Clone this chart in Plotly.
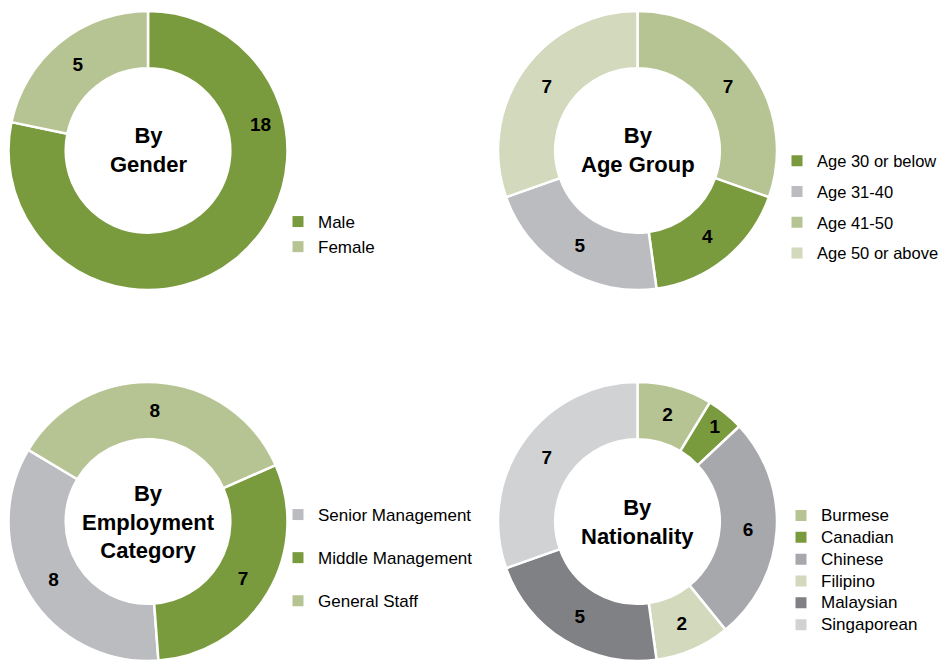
import math
import plotly.graph_objects as go

# ---------------- data ----------------
gender_labels = ["Male", "Female"]
gender_values = [18, 5]

age_labels = ["Age 30 or below", "Age 31-40", "Age 41-50", "Age 50 or above"]
age_values = [4, 5, 7, 7]
# clockwise drawing order of the age slices, starting at 12 o'clock
age_pie_order = ["Age 41-50", "Age 30 or below", "Age 31-40", "Age 50 or above"]

employment_labels = ["Senior Management", "Middle Management", "General Staff"]
employment_values = [8, 7, 8]

nationality_labels = ["Burmese", "Canadian", "Chinese", "Filipino", "Malaysian", "Singaporean"]
nationality_values = [2, 1, 6, 2, 5, 7]

# ---------------- styles ----------------
DARK_GREEN = "#7a9a3e"
LIGHT_GREEN = "#b6c493"
PALE_GREEN = "#d3d9bc"
MID_GRAY = "#bbbcc0"
GRAY = "#a7a8ac"
DARK_GRAY = "#808185"
LIGHT_GRAY = "#d1d2d4"

gender_colors = [DARK_GREEN, LIGHT_GREEN]
age_colors = [DARK_GREEN, MID_GRAY, LIGHT_GREEN, PALE_GREEN]
employment_colors = [MID_GRAY, DARK_GREEN, LIGHT_GREEN]
nationality_colors = [LIGHT_GREEN, DARK_GREEN, GRAY, PALE_GREEN, DARK_GRAY, LIGHT_GRAY]

FONT = "Arial, Liberation Sans, sans-serif"
W, H = 950, 661
OFF = 8  # page body margin of the html page


def px_x(v):
    return (v - OFF) / W


def px_y(v):
    return 1 - (v - OFF) / H


fig = go.Figure()

HOLE = 0.59
LABEL_SIZE = 19


def add_pie(labels, values, colors, dom_x, dom_y, direction="clockwise", rotation=0,
            templates=None):
    fig.add_trace(go.Pie(
        labels=labels, values=values, sort=False, direction=direction, rotation=rotation,
        hole=HOLE, showlegend=False,
        marker=dict(colors=colors, line=dict(color="white", width=2.5)),
        textinfo="value",
        texttemplate=templates if templates is not None else "<b>%{value}</b>",
        textposition="inside",
        insidetextorientation="horizontal",
        textfont=dict(family=FONT, size=LABEL_SIZE, color="black"),
        domain=dict(x=dom_x, y=dom_y),
        hoverinfo="label+value",
    ))


def add_legend(name, labels, colors, text_px=None):
    for i, (lab, col) in enumerate(zip(labels, colors)):
        shown = lab if text_px is None else f"<span style='font-size:{text_px}px'>{lab}</span>"
        fig.add_trace(go.Scatter(
            x=[None], y=[None], mode="markers", name=shown,
            marker=dict(symbol="square", size=11, color=col),
            legend=name, legendgroup=f"{name}_{i}", showlegend=True, hoverinfo="skip",
        ))


LEFT_X = [px_x(8.5), px_x(287.5)]
RIGHT_X = [px_x(498), px_x(777)]
TOP_Y = [px_y(290), px_y(11)]
BOT_Y = [px_y(661), px_y(382)]

# chart 1 – the big slice's label is placed as an annotation (upper right, as in the original)
add_pie(gender_labels, gender_values, gender_colors, LEFT_X, TOP_Y,
        templates=[""] + ["<b>%{value}</b>"] * (len(gender_values) - 1))
# chart 2 (slices in drawing order)
age_idx = [age_labels.index(l) for l in age_pie_order]
add_pie([age_labels[i] for i in age_idx], [age_values[i] for i in age_idx],
        [age_colors[i] for i in age_idx], RIGHT_X, TOP_Y)
# chart 3
add_pie(employment_labels, employment_values, employment_colors, LEFT_X, BOT_Y,
        direction="counterclockwise", rotation=175.7)
# chart 4
add_pie(nationality_labels, nationality_values, nationality_colors, RIGHT_X, BOT_Y)

add_legend("legend", gender_labels, gender_colors)
add_legend("legend2", age_labels, age_colors)
add_legend("legend3", employment_labels, employment_colors)
add_legend("legend4", nationality_labels, nationality_colors, text_px=17)

centre_titles = [
    ("By<br>Gender", 148, 150),
    ("By<br>Age Group", 637.5, 150),
    ("By<br>Employment<br>Category", 148, 521.5),
    ("By<br>Nationality", 637.5, 521.5),
]
annotations = [
    dict(text=f"<b>{t}</b>", x=px_x(cx), y=px_y(cy), xref="paper", yref="paper",
         showarrow=False, xanchor="center", yanchor="middle",
         font=dict(family=FONT, size=22, color="black"))
    for t, cx, cy in centre_titles
]

# label of the Male slice (placed near the start of the slice)
LABEL_ANGLE = 77
LABEL_R = 115
c1x, c1y = 148, 150
annotations.append(dict(
    text=f"<b>{gender_values[0]}</b>",
    x=px_x(c1x + LABEL_R * math.sin(math.radians(LABEL_ANGLE))),
    y=px_y(c1y - LABEL_R * math.cos(math.radians(LABEL_ANGLE))),
    xref="paper", yref="paper", showarrow=False, xanchor="center", yanchor="middle",
    font=dict(family=FONT, size=LABEL_SIZE, color="black"),
))


def legend_cfg(x, y_mid, gap, size=17):
    return dict(x=px_x(x), y=px_y(y_mid), xanchor="left", yanchor="middle",
                font=dict(family=FONT, size=size, color="black"),
                bgcolor="rgba(0,0,0,0)", traceorder="grouped", tracegroupgap=gap,
                itemclick=False, itemdoubleclick=False)


fig.update_layout(
    width=W, height=H,
    margin=dict(l=0, r=0, t=0, b=0),
    paper_bgcolor="white", plot_bgcolor="white",
    font=dict(family=FONT, color="black"),
    xaxis=dict(visible=False), yaxis=dict(visible=False),
    annotations=annotations,
    legend=legend_cfg(278, 234.5, 0),
    legend2=legend_cfg(777, 207, 6.3, size=16.5),
    legend3=legend_cfg(278, 558, 18),
    legend4=legend_cfg(781, 570.5, 0, size=14.5),
)

fig.write_html("out.html")
